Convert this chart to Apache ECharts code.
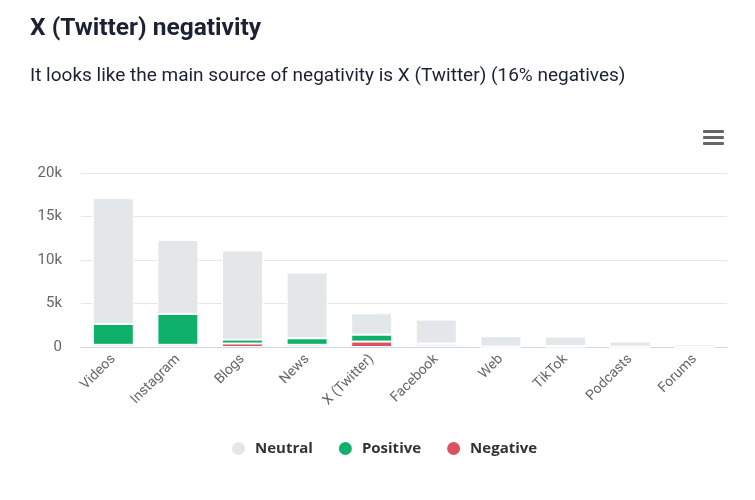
<!DOCTYPE html>
<html><head><meta charset="utf-8">
<script src="https://cdn.jsdelivr.net/npm/echarts@6/dist/echarts.min.js"></script>
<style>html,body{margin:0;padding:0;background:#fff}#c{width:755px;height:500px}</style>
</head><body><div id="c"></div>
<script>
var categories = ['Videos','Instagram','Blogs','News','X (Twitter)','Facebook','Web','TikTok','Podcasts','Forums'];
var neutral  = [14450, 8500, 10250, 7550, 2450, 2750, 1200, 1080, 620, 280];
var positive = [2400, 3550, 450, 750, 800, 150, 20, 100, 10, 10];
var negative = [250, 250, 400, 250, 620, 250, 20, 20, 10, 10];
var yTicks = [0, 5000, 10000, 15000, 20000];

var chart = echarts.init(document.getElementById('c'), null, {renderer:'canvas'});
var bi = {borderColor:'#fff', borderWidth:1};
chart.setOption({
  animation:false,
  title:[
    {text:'X (Twitter) negativity', left:25, top:11, textStyle:{fontFamily:'Roboto', fontWeight:'bold', fontSize:24.5, color:'#1c2133'}},
    {text:'It looks like the main source of negativity is X (Twitter) (16% negatives)', left:25, top:62, textStyle:{fontFamily:'Roboto', fontWeight:'normal', fontSize:19, color:'#1c2133'}}
  ],
  legend:{data:['Neutral','Positive','Negative'], bottom:38, left:225, icon:'circle', itemWidth:15, itemHeight:15, itemGap:24,
    textStyle:{fontFamily:'Open Sans', fontWeight:'bold', fontSize:15, color:'#333', padding:[0,0,0,4]}},
  grid:{left:81, right:28, top:173, bottom:153},
  xAxis:{type:'category', data:categories,
    axisLine:{lineStyle:{color:'#ccd6eb'}}, axisTick:{show:false},
    axisLabel:{rotate:45, interval:0, color:'#666', fontFamily:'Roboto', fontSize:14, margin:10}},
  yAxis:{type:'value', min:yTicks[0], max:yTicks[yTicks.length-1], interval:5000,
    axisLabel:{color:'#666', fontFamily:'Roboto', fontSize:15, margin:19, formatter:function(v){return v===0?'0':(v/1000)+'k';}},
    splitLine:{lineStyle:{color:'#e6e6e6'}}, axisLine:{show:false}, axisTick:{show:false}},
  series:[
    {name:'Negative', type:'bar', stack:'s', data:negative, barWidth:41, itemStyle:Object.assign({color:'#d9525e'},bi)},
    {name:'Positive', type:'bar', stack:'s', data:positive, barWidth:41, itemStyle:Object.assign({color:'#0fb16a'},bi)},
    {name:'Neutral', type:'bar', stack:'s', data:neutral, barWidth:41, itemStyle:Object.assign({color:'#e3e7ea'},bi)}
  ],
  graphic:[
    {type:'rect', left:703, top:130, shape:{width:21, height:3, r:1}, style:{fill:'#666'}},
    {type:'rect', left:703, top:136, shape:{width:21, height:3, r:1}, style:{fill:'#666'}},
    {type:'rect', left:703, top:142, shape:{width:21, height:3, r:1}, style:{fill:'#666'}}
  ]
});
</script></body></html>
